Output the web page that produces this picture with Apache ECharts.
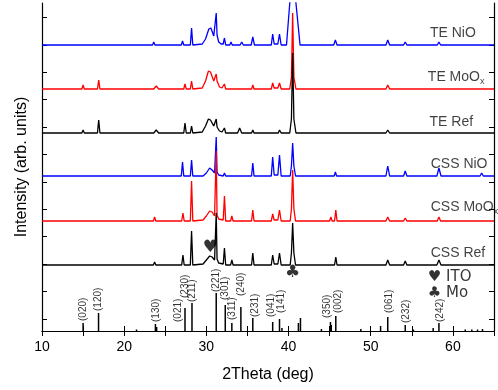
<!DOCTYPE html>
<html>
<head>
<meta charset="utf-8">
<script src="https://cdn.jsdelivr.net/npm/echarts@6/dist/echarts.min.js"></script>
<style>
  html, body { margin: 0; padding: 0; background: #fff; }
  #chart { width: 498px; height: 390px; }
</style>
</head>
<body>
<div id="chart"></div>
<script>
// 2theta (deg) vs intensity (arb. units, counted from the bottom of the frame)
let teNiO = [
    [10, 0], [23.45, 0], [23.6, 3], [23.75, 0],
    [26.95, 0], [27.1, 4], [27.25, 0],
    [28.05, 0], [28.2, 17], [28.35, 0],
    [29.5, 1], [29.9, 6], [30.3, 16], [30.55, 17], [30.9, 9], [31.1, 10], [31.2, 32], [31.3, 10], [31.5, 3], [31.8, 1],
    [32.05, 1], [32.2, 7], [32.35, 0],
    [32.85, 0], [33.0, 3], [33.15, 0],
    [34.1, 0], [34.3, 3], [34.5, 0],
    [35.45, 0], [35.65, 8], [35.85, 0],
    [37.9, 0], [38.07, 11], [38.25, 1], [38.7, 1], [38.9, 11], [39.1, 0],
    [39.75, 0], [40.15, 42], [40.5, 80], [40.9, 42], [41.4, 0],
    [44.9, 0], [45.07, 2], [45.25, 0], [45.5, 0], [45.7, 5], [45.9, 0],
    [48.95, 0], [49.1, 1], [49.25, 0],
    [51.85, 0], [52.07, 5], [52.3, 0],
    [54.0, 0], [54.2, 3], [54.4, 0],
    [58.1, 0], [58.3, 3], [58.5, 0],
    [63.3, 0], [63.5, 2], [63.7, 0], [65, 0]
];
let teMoOx = [
    [10, 0], [14.85, 0], [15.0, 4], [15.15, 0],
    [16.75, 0], [16.9, 9], [17.05, 0],
    [23.6, 0], [23.9, 3], [24.2, 0],
    [27.25, 0], [27.4, 5], [27.55, 0],
    [28.05, 0], [28.2, 8], [28.35, 0],
    [29.5, 1], [29.9, 8], [30.25, 18], [30.5, 17], [30.9, 8], [31.1, 9], [31.2, 15], [31.3, 8], [31.6, 2], [31.9, 1],
    [32.05, 1], [32.2, 5], [32.35, 0],
    [32.95, 0], [33.1, 2], [33.25, 0],
    [34.0, 0], [34.2, 2], [34.4, 0],
    [35.5, 0], [35.65, 4], [35.8, 0],
    [37.9, 0], [38.07, 6], [38.25, 1], [38.7, 1], [38.9, 6], [39.1, 0],
    [40.15, 0], [40.35, 12], [40.5, 76], [40.65, 12], [40.9, 0],
    [44.9, 0], [45.07, 2], [45.25, 0], [45.55, 0], [45.7, 2], [45.85, 0],
    [51.85, 0], [52.07, 4], [52.3, 0],
    [58.1, 0], [58.3, 1], [58.5, 0], [65, 0]
];
let teRef = [
    [10, 0], [14.85, 0], [15.0, 3], [15.15, 0],
    [16.75, 0], [16.9, 13], [17.05, 0],
    [21.35, 0], [21.5, 1], [21.65, 0],
    [23.6, 0], [23.9, 3], [24.2, 0],
    [27.25, 0], [27.4, 10], [27.55, 0],
    [28.05, 0], [28.2, 7], [28.35, 0],
    [29.5, 1], [29.9, 7], [30.25, 14], [30.5, 13], [30.9, 7], [31.1, 8], [31.2, 14], [31.3, 6], [31.6, 2], [31.9, 1],
    [32.05, 1], [32.2, 5], [32.35, 0],
    [32.95, 0], [33.1, 2], [33.25, 0],
    [33.8, 0], [34.05, 5], [34.3, 0],
    [35.5, 0], [35.65, 3], [35.8, 0],
    [37.9, 0], [38.07, 2], [38.25, 0], [38.75, 0], [38.9, 3], [39.1, 0],
    [40.15, 0], [40.35, 14], [40.5, 80], [40.65, 14], [40.9, 0],
    [44.85, 0], [45.07, 2], [45.3, 0],
    [51.85, 0], [52.07, 3], [52.3, 0], [65, 0]
];
let cssNiO = [
    [10, 0], [23.45, 0], [23.6, 1], [23.75, 0],
    [26.95, 0], [27.1, 14], [27.25, 0],
    [28.05, 0], [28.2, 16], [28.35, 0],
    [29.6, 0], [30.0, 3], [30.4, 8], [30.7, 6], [31.0, 3], [31.1, 4], [31.2, 39], [31.3, 4], [31.5, 1],
    [32.05, 0], [32.2, 3], [32.35, 0],
    [35.5, 0], [35.65, 13], [35.8, 0],
    [37.9, 0], [38.07, 19], [38.25, 1], [38.7, 1], [38.9, 21], [39.1, 0],
    [40.2, 0], [40.35, 10], [40.5, 33], [40.65, 10], [40.85, 0],
    [44.9, 0], [45.07, 2], [45.25, 0], [45.55, 0], [45.7, 4], [45.85, 0],
    [48.95, 0], [49.1, 1], [49.25, 0],
    [51.85, 0], [52.07, 10], [52.3, 0],
    [54.0, 0], [54.2, 5], [54.4, 0],
    [58.05, 0], [58.3, 8], [58.55, 0],
    [63.3, 0], [63.5, 3], [63.7, 0], [65, 0]
];
let cssMoOx = [
    [10, 0], [23.55, 0], [23.7, 4], [23.85, 0],
    [27.0, 0], [27.15, 8], [27.3, 0],
    [28.05, 0], [28.2, 40], [28.35, 0],
    [29.6, 1], [30.0, 5], [30.4, 10], [30.7, 9], [31.0, 5], [31.1, 6], [31.2, 70], [31.3, 6], [31.5, 2],
    [32.05, 1], [32.2, 25], [32.35, 0],
    [32.95, 0], [33.1, 5], [33.25, 0],
    [35.5, 0], [35.65, 11], [35.8, 0],
    [37.9, 0], [38.07, 7], [38.25, 1], [38.7, 1], [38.9, 11], [39.1, 0],
    [40.2, 0], [40.35, 12], [40.5, 51], [40.65, 12], [40.85, 0],
    [41.25, 0], [41.4, 2], [41.55, 0],
    [45.0, 0], [45.15, 4], [45.3, 0], [45.6, 0], [45.75, 11], [45.9, 0],
    [48.95, 0], [49.1, 1], [49.25, 0],
    [51.85, 0], [52.07, 4], [52.3, 0],
    [54.0, 0], [54.2, 3], [54.4, 0],
    [58.1, 0], [58.3, 4], [58.5, 0],
    [63.3, 0], [63.5, 1], [63.7, 0], [65, 0]
];
let cssRef = [
    [10, 0], [23.55, 0], [23.7, 3], [23.85, 0],
    [27.0, 0], [27.15, 10], [27.3, 0],
    [28.05, 0], [28.2, 34], [28.35, 0],
    [29.6, 1], [30.0, 5], [30.4, 9], [30.7, 8], [31.0, 5], [31.1, 6], [31.2, 52], [31.3, 6], [31.5, 2],
    [32.05, 1], [32.2, 17], [32.35, 0],
    [32.95, 0], [33.1, 5], [33.25, 0],
    [35.5, 0], [35.65, 12], [35.8, 0],
    [37.9, 0], [38.07, 10], [38.25, 1], [38.7, 1], [38.9, 12], [39.1, 0],
    [40.2, 0], [40.35, 12], [40.5, 42], [40.65, 12], [40.85, 0],
    [41.25, 0], [41.4, 2], [41.55, 0],
    [45.0, 0], [45.15, 2], [45.3, 0], [45.6, 0], [45.75, 8], [45.9, 0],
    [48.95, 0], [49.1, 1], [49.25, 0],
    [51.85, 0], [52.07, 5], [52.3, 0],
    [54.0, 0], [54.2, 4], [54.4, 0],
    [58.05, 0], [58.3, 5], [58.55, 0],
    [63.3, 0], [63.5, 2], [63.7, 0], [65, 0]
];

let traceNames = ['TE NiO', 'TE MoOx', 'TE Ref', 'CSS NiO', 'CSS MoOx', 'CSS Ref'];
let traceData = [teNiO, teMoOx, teRef, cssNiO, cssMoOx, cssRef];
let traceOffsets = [286, 242, 198, 155, 110, 66];
let traceColors = ['#0000ff', '#ff0000', '#000000', '#0000ff', '#ff0000', '#000000'];
let traceLabelText = ['TE NiO', 'TE MoO{s|x}', 'TE Ref', 'CSS NiO', 'CSS MoO{s|x}', 'CSS Ref'];
let traceLabelPos = [[57.2, 298], [56.95, 254], [57.15, 209], [57.3, 167], [57.3, 124], [57.3, 78]];

// reference pattern (stick heights)
let stickPos = [15.0, 16.88, 21.5, 23.8, 23.95, 27.4, 28.25, 31.2, 32.3, 33.1, 34.2, 35.65, 38.07, 38.9, 39.2,
    41.2, 41.45, 44.0, 45.1, 45.2, 45.75, 48.8, 51.2, 52.07, 54.2, 55.2, 57.6, 58.3, 61.5, 62.3, 63.0, 63.6];
let stickHeight = [8, 18, 1.5, 7, 4, 23, 28, 38, 26, 8, 24, 13, 9, 12, 3,
    8, 13, 2, 9, 6, 15, 2, 5, 14, 6, 1.5, 3, 8, 1.5, 1.5, 1.5, 2];

let hklText = ['(020)', '(120)', '(130)', '(021)', '(230)', '(211)', '(221)', '(301)', '(311)', '(240)',
    '(231)', '(041)', '(141)', '(350)', '(002)', '(061)', '(232)', '(242)'];
let hklPos = [[15.0, 10], [16.9, 20], [23.9, 9], [26.55, 9], [27.4, 33], [28.25, 29], [31.2, 39], [32.3, 31], [33.2, 11], [34.2, 35],
    [35.9, 14], [37.95, 14], [39.16, 18], [44.7, 13], [46.05, 18], [52.2, 18], [54.36, 8], [58.4, 9]];

// ITO / Mo markers on the curves, and the key
let markerText = ['♥', '♣'];
let markerPos = [[30.45, 83], [40.5, 58]];
let keyText = ['♥ ITO', '♣ Mo'];
let keyPos = [[56.95, 54], [56.95, 38]];

let yTicks = [];
for (let k = 0; k < 12; k++) {
    yTicks.push(12 + k * 27.42);
}

let font = 'Liberation Sans, Arial, sans-serif';
let symFont = 'DejaVu Sans, sans-serif';

let series = [];
for (let i = 0; i < traceData.length; i++) {
    series.push({
        name: traceNames[i],
        type: 'line',
        showSymbol: false,
        clip: true,
        lineStyle: { color: traceColors[i], width: 1.3 },
        data: traceData[i].map(p => [p[0], p[1] + traceOffsets[i]])
    });
}

series.push({
    name: 'reference',
    type: 'bar',
    barWidth: 1.5,
    itemStyle: { color: '#000' },
    data: stickPos.map((x, i) => [x, stickHeight[i]])
});

function textSeries(data, label) {
    return {
        type: 'scatter',
        symbolSize: 1,
        itemStyle: { color: 'transparent' },
        label: Object.assign({ show: true, position: 'inside', verticalAlign: 'middle', color: '#000' }, label),
        data: data
    };
}

series.push(textSeries(hklPos, {
    rotate: 90, align: 'left', fontFamily: font, fontSize: 10,
    formatter: p => hklText[p.dataIndex]
}));

series.push(textSeries(traceLabelPos, {
    align: 'left', fontFamily: font, fontSize: 14, color: '#111',
    formatter: p => traceLabelText[p.dataIndex],
    rich: {
        s: { fontFamily: font, fontSize: 9, color: '#111', padding: [9, 0, 0, 0] }
    }
}));

series.push(textSeries(markerPos, {
    align: 'center', fontFamily: symFont, fontSize: 17,
    formatter: p => markerText[p.dataIndex]
}));

series.push(textSeries(keyPos, {
    align: 'left', fontFamily: symFont, fontSize: 15,
    formatter: p => keyText[p.dataIndex]
}));

let option = {
    animation: false,
    grid: { left: 42, right: 4, top: 3, bottom: 59 },
    xAxis: [
        {
            type: 'value', min: 10, max: 65, interval: 5, position: 'bottom',
            axisLine: { lineStyle: { color: '#000', width: 1.2 } },
            axisTick: { inside: true, length: 5, lineStyle: { color: '#000' } },
            axisLabel: {
                color: '#000', fontSize: 14, fontFamily: font, margin: 9,
                formatter: v => (v % 10 === 0 && v < 65) ? String(v) : ''
            },
            splitLine: { show: false },
            name: '2Theta (deg)', nameLocation: 'middle', nameGap: 36,
            nameTextStyle: { color: '#000', fontSize: 16, fontFamily: font }
        },
        {
            type: 'value', min: 10, max: 65, interval: 5, position: 'top',
            axisLine: { lineStyle: { color: '#000', width: 1.2 } },
            axisTick: { inside: true, length: 5, lineStyle: { color: '#000' } },
            axisLabel: { show: false },
            splitLine: { show: false }
        }
    ],
    yAxis: [
        {
            type: 'value', min: 0, max: 328, position: 'left',
            axisLine: { show: true, lineStyle: { color: '#000', width: 1.2 } },
            axisTick: { show: true, inside: true, length: 5, customValues: yTicks, lineStyle: { color: '#000' } },
            axisLabel: { show: false },
            splitLine: { show: false },
            name: 'Intensity (arb. units)', nameLocation: 'middle', nameGap: 12,
            nameTextStyle: { color: '#000', fontSize: 16, fontFamily: font }
        },
        {
            type: 'value', min: 0, max: 328, position: 'right',
            axisLine: { show: true, lineStyle: { color: '#000', width: 1.2 } },
            axisTick: { show: true, inside: true, length: 5, customValues: yTicks, lineStyle: { color: '#000' } },
            axisLabel: { show: false },
            splitLine: { show: false }
        }
    ],
    series: series
};

let chart = echarts.init(document.getElementById('chart'));
chart.setOption(option);
</script>
</body>
</html>
